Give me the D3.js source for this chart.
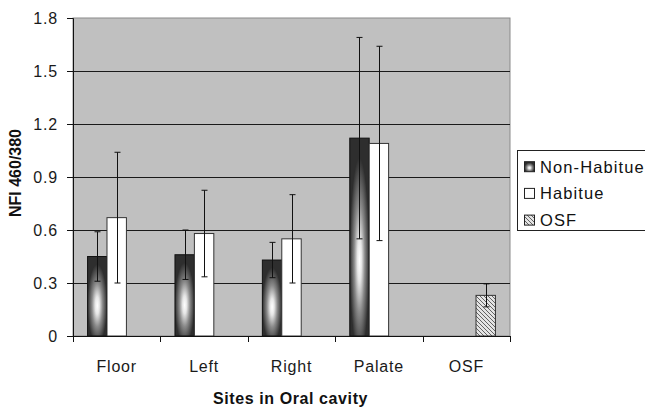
<!DOCTYPE html>
<html>
<head>
<meta charset="utf-8">
<script src="https://cdn.jsdelivr.net/npm/d3@7"></script>
<style>
html,body{margin:0;padding:0;background:#fff;}
svg{display:block;font-family:"Liberation Sans",Arial,sans-serif;}
</style>
</head>
<body>
<svg id="chart" width="645" height="407"></svg>
<script>
// ---- data ----
const categories = ["Floor", "Left", "Right", "Palate", "OSF"];
const seriesNames = ["Non-Habitue", "Habitue", "OSF"];
const nonHabitue    = [0.45, 0.46, 0.43, 1.12, null];
const nonHabitueErr = [0.14, 0.14, 0.10, 0.57, null];
const habitue       = [0.67, 0.58, 0.55, 1.09, null];
const habitueErr    = [0.37, 0.245, 0.25, 0.55, null];
const osf           = [null, null, null, null, 0.23];
const osfErr        = [null, null, null, null, 0.065];
const yTicks = [0, 0.3, 0.6, 0.9, 1.2, 1.5, 1.8];
const yTickLabels = ["0", "0.3", "0.6", "0.9", "1.2", "1.5", "1.8"];
const xTitle = "Sites in Oral cavity";
const yTitle = "NFI 460/380";

const values = [nonHabitue, habitue, osf];
const errors = [nonHabitueErr, habitueErr, osfErr];

// ---- layout ----
const svg = d3.select("#chart");
const pLeft = 73, pRight = 510, pTop = 18, pBottom = 336;

const x = d3.scaleBand().domain(categories).range([pLeft, pRight]).padding(0);
const xs = d3.scaleBand().domain(seriesNames).range([0, x.bandwidth()])
  .paddingInner(0).paddingOuter(0.75);
const y = d3.scaleLinear().domain([0, 1.8]).range([pBottom, pTop]);

const defs = svg.append("defs");
const rg = defs.append("radialGradient").attr("id", "nhGrad")
  .attr("cx", 0.5).attr("cy", 0.6).attr("r", 0.5).attr("fx", 0.5).attr("fy", 0.62);
[[0, "#ffffff"], [0.22, "#e6e6e6"], [0.55, "#8a8a8a"], [1, "#2e2e2e"]].forEach(s =>
  rg.append("stop").attr("offset", s[0]).attr("stop-color", s[1]));

const pat = defs.append("pattern").attr("id", "hatch")
  .attr("patternUnits", "userSpaceOnUse").attr("width", 4).attr("height", 4);
pat.append("rect").attr("width", 4).attr("height", 4).attr("fill", "#e4e4e4");
pat.append("path").attr("d", "M-1,-1 L5,5 M3,-1 L5,1 M-1,3 L1,5")
  .attr("stroke", "#555").attr("stroke-width", 0.9);

const fills = ["url(#nhGrad)", "#ffffff", "url(#hatch)"];
const strokes = ["#111", "#333", "#333"];

// plot area
svg.append("rect").attr("x", pLeft).attr("y", pTop)
  .attr("width", pRight - pLeft).attr("height", pBottom - pTop)
  .attr("fill", "#c0c0c0").attr("stroke", "#8a8a8a").attr("stroke-width", 1);

// gridlines
svg.append("g").selectAll("line").data(yTicks.filter(t => t > 0 && t < 1.8)).join("line")
  .attr("x1", pLeft).attr("x2", pRight)
  .attr("y1", d => Math.round(y(d)) + 0.5).attr("y2", d => Math.round(y(d)) + 0.5)
  .attr("stroke", "#1a1a1a").attr("stroke-width", 1);

// bars
const barData = [];
seriesNames.forEach((s, si) => {
  categories.forEach((c, ci) => {
    const v = values[si][ci];
    if (v != null) barData.push({ s, si, c, v, e: errors[si][ci] });
  });
});

svg.append("g").selectAll("rect").data(barData).join("rect")
  .attr("x", d => x(d.c) + xs(d.s))
  .attr("y", d => y(d.v))
  .attr("width", xs.bandwidth())
  .attr("height", d => y(0) - y(d.v))
  .attr("fill", d => fills[d.si])
  .attr("stroke", d => strokes[d.si]).attr("stroke-width", 1);

// error bars
const eg = svg.append("g").attr("stroke", "#111").attr("stroke-width", 1);
barData.forEach(d => {
  const cx = Math.round(x(d.c) + xs(d.s) + xs.bandwidth() / 2) + 0.5;
  const y1 = y(d.v + d.e), y2 = y(d.v - d.e);
  eg.append("line").attr("x1", cx).attr("x2", cx).attr("y1", y1).attr("y2", y2);
  eg.append("line").attr("x1", cx - 3).attr("x2", cx + 3).attr("y1", y1).attr("y2", y1);
  eg.append("line").attr("x1", cx - 3).attr("x2", cx + 3).attr("y1", y2).attr("y2", y2);
});

// y axis
const yAxis = d3.axisLeft(y).tickValues(yTicks)
  .tickFormat((d, i) => yTickLabels[i]).tickSize(6).tickPadding(9);
const gy = svg.append("g").attr("transform", `translate(${pLeft},0)`).call(yAxis);
gy.select(".domain").attr("stroke", "#111");
gy.selectAll(".tick line").attr("stroke", "#111");
gy.selectAll(".tick text").attr("font-size", 16).attr("fill", "#1a1a1a")
  .attr("letter-spacing", 0.8).attr("font-family", "Liberation Sans, Arial, sans-serif");

// x axis (labels at category centres, tick marks at category boundaries)
const xAxis = d3.axisBottom(x).tickSize(0).tickPadding(25);
const gx = svg.append("g").attr("transform", `translate(0,${pBottom})`).call(xAxis);
gx.select(".domain").remove();
gx.selectAll(".tick text").attr("font-size", 16).attr("fill", "#1a1a1a")
  .attr("letter-spacing", 0.8).attr("font-family", "Liberation Sans, Arial, sans-serif");
svg.append("line").attr("x1", pLeft).attr("x2", pRight)
  .attr("y1", pBottom + 0.5).attr("y2", pBottom + 0.5).attr("stroke", "#111");
const bounds = categories.map(c => x(c)).concat([x(categories[categories.length - 1]) + x.bandwidth()]);
svg.append("g").selectAll("line").data(bounds).join("line")
  .attr("x1", d => Math.round(d) + 0.5).attr("x2", d => Math.round(d) + 0.5)
  .attr("y1", pBottom).attr("y2", pBottom + 6).attr("stroke", "#111");

// axis titles
svg.append("text").attr("x", (pLeft + pRight) / 2 - 1).attr("y", 404)
  .attr("text-anchor", "middle").attr("font-size", 16).attr("font-weight", "bold")
  .attr("letter-spacing", 0.6).attr("fill", "#111").text(xTitle);
svg.append("text").attr("transform", "translate(21,173) rotate(-90)")
  .attr("text-anchor", "middle").attr("font-size", 16).attr("font-weight", "bold")
  .attr("fill", "#111").text(yTitle);

// legend
const lg = svg.append("g");
lg.append("rect").attr("x", 517.5).attr("y", 150.5).attr("width", 140).attr("height", 80)
  .attr("fill", "#fff").attr("stroke", "#222");
seriesNames.forEach((s, i) => {
  const cy = 166.7 + i * 26.7;
  lg.append("rect").attr("x", 524.5).attr("y", cy - 5).attr("width", 10).attr("height", 10)
    .attr("fill", fills[i]).attr("stroke", "#222");
  lg.append("text").attr("x", 540).attr("y", cy + 6).attr("font-size", 16.5)
    .attr("letter-spacing", 1.1).attr("fill", "#111").text(s);
});
</script>
</body>
</html>
